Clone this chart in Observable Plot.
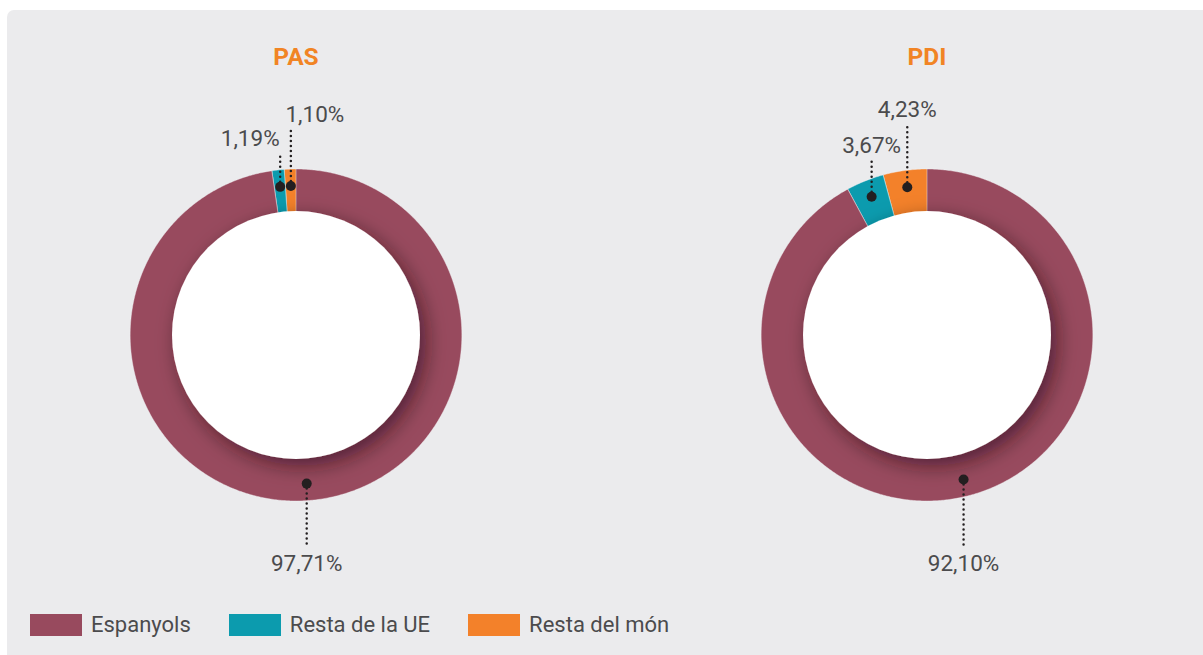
<!DOCTYPE html>
<html><head><meta charset="utf-8">
<script src="https://cdn.jsdelivr.net/npm/d3@7"></script>
<script src="https://cdn.jsdelivr.net/npm/@observablehq/plot@0.6"></script>
<style>
html,body{margin:0;padding:0;background:#fff;width:1203px;height:655px;overflow:hidden;font-family:Roboto,sans-serif;}
#panel{position:absolute;left:7px;top:10px;width:1210px;height:660px;background:#ebebed;border-radius:7px;}
#chart{position:absolute;left:0;top:0;}
#legend{position:absolute;left:30px;top:614px;}
#legend > div{font-family:Roboto,sans-serif !important;font-size:22px !important;color:#4b4b4d !important;margin:0 !important;min-height:0 !important;line-height:22px;}
#legend [class$="-swatch"]{margin-right:38px !important;display:inline-flex;align-items:center;}
#legend [class$="-swatch"] > svg{margin-right:9px !important;}
</style></head><body>
<div id="panel"></div><div id="chart"></div><div id="legend"></div>
<script>
// ---- data ----
const charts = ["PAS", "PDI"];
const categories = ["Espanyols", "Resta de la UE", "Resta del món"];
const pasValues = [97.71, 1.19, 1.10];
const pdiValues = [92.10, 3.67, 4.23];
const colors = ["#984a5e", "#0c9bae", "#f3812a"];

// ---- layout / style ----
const W = 1203, H = 600;
const outerR = 166, ringInnerR = 118, holeR = 124, dotR = 149;
const centerY = 334.5;
const mLeft = 20, padInner = 0.1267;
const labelLayout = {
  PAS: [{level: 236, shift: 0}, {level: -189, shift: -30}, {level: -213, shift: 24}],
  PDI: [{level: 236, shift: 0}, {level: -182, shift: 0}, {level: -218.5, shift: 0}]
};
const textColor = "#4b4b4d";

const valuesByChart = {PAS: pasValues, PDI: pdiValues};
const fmt = d3.formatLocale({decimal: ",", thousands: ".", grouping: [3], currency: ["", "€"]}).format(".2f");

const slices = [];
for (const c of charts) {
  const vals = valuesByChart[c];
  const total = d3.sum(vals);
  let acc = 0;
  vals.forEach((v, i) => {
    const a0 = acc / total * 2 * Math.PI;
    acc += v;
    const a1 = acc / total * 2 * Math.PI;
    slices.push({chart: c, category: categories[i], value: v, a0, a1, index: i});
  });
}

const polyPts = [];
for (const s of slices) {
  const n = Math.max(2, Math.ceil((s.a1 - s.a0) / (Math.PI / 360)));
  const key = s.chart + "|" + s.category;
  for (let k = 0; k <= n; k++) {
    const a = s.a0 + (s.a1 - s.a0) * k / n;
    polyPts.push({key, chart: s.chart, category: s.category, x: outerR * Math.sin(a), y: -outerR * Math.cos(a)});
  }
  for (let k = n; k >= 0; k--) {
    const a = s.a0 + (s.a1 - s.a0) * k / n;
    polyPts.push({key, chart: s.chart, category: s.category, x: ringInnerR * Math.sin(a), y: -ringInnerR * Math.cos(a)});
  }
}

const labels = slices.map(s => {
  const m = (s.a0 + s.a1) / 2;
  const dx = dotR * Math.sin(m), dy = -dotR * Math.cos(m);
  const L = labelLayout[s.chart][s.index];
  return {
    chart: s.chart, dx, dy,
    lx: dx + L.shift, ly: L.level,
    y2: L.level < 0 ? L.level + 8 : L.level - 26,
    text: fmt(s.value) + "%"
  };
});

const step = (W - mLeft) / (2 - padInner);
const bw = step * (1 - padInner);

const plot = Plot.plot({
  width: W, height: H,
  marginLeft: mLeft, marginRight: 0, marginTop: 0, marginBottom: 0,
  style: {fontFamily: "Roboto, sans-serif", background: "transparent", overflow: "visible"},
  fx: {domain: charts, paddingInner: padInner, paddingOuter: 0, axis: null},
  x: {domain: [-bw / 2, bw / 2], axis: null},
  y: {domain: [-centerY, H - centerY], range: [0, H], axis: null},
  color: {domain: categories, range: colors},
  marks: [
    Plot.line(polyPts, {x: "x", y: "y", z: "key", fx: "chart", fill: "category", stroke: "#f4f4f5", strokeWidth: 0.6, strokeOpacity: 0.7, curve: "linear-closed"}),
    Plot.dot(charts, {fx: d => d, x: () => 0, y: () => 0, r: holeR, fill: "white", stroke: "none"}),
    Plot.link(labels, {fx: "chart", x1: "dx", y1: "dy", x2: "dx", y2: "y2", stroke: "#231f20", strokeWidth: 2.5, strokeDasharray: "0,5", strokeLinecap: "round"}),
    Plot.dot(labels, {fx: "chart", x: "dx", y: "dy", r: 5, fill: "#231f20", stroke: "none"}),
    Plot.text(labels, {fx: "chart", x: "lx", y: "ly", text: "text", lineAnchor: "bottom", fontSize: 22.5, fill: textColor}),
    Plot.text(charts, {fx: d => d, text: d => d, frameAnchor: "top", lineAnchor: "bottom", dy: 64, fontSize: 24.5, fontWeight: 700, fill: "#f18424"})
  ]
});

const svgSel = d3.select(plot);
svgSel.insert("defs", ":first-child").html(
  '<filter id="holeShadow" x="-40%" y="-40%" width="180%" height="180%">' +
  '<feDropShadow dx="6" dy="7" stdDeviation="10" flood-color="#1a0008" flood-opacity="0.55"/></filter>');
svgSel.selectAll("circle").filter(function () {
  const r = this.getAttribute("r") ?? this.parentNode.getAttribute("r");
  return +r === holeR;
}).attr("filter", "url(#holeShadow)");
document.getElementById("chart").appendChild(plot);

const legend = Plot.legend({
  color: {domain: categories, range: colors},
  legend: "swatches",
  swatchWidth: 52, swatchHeight: 22
});
document.getElementById("legend").appendChild(legend);
</script>
</body></html>
